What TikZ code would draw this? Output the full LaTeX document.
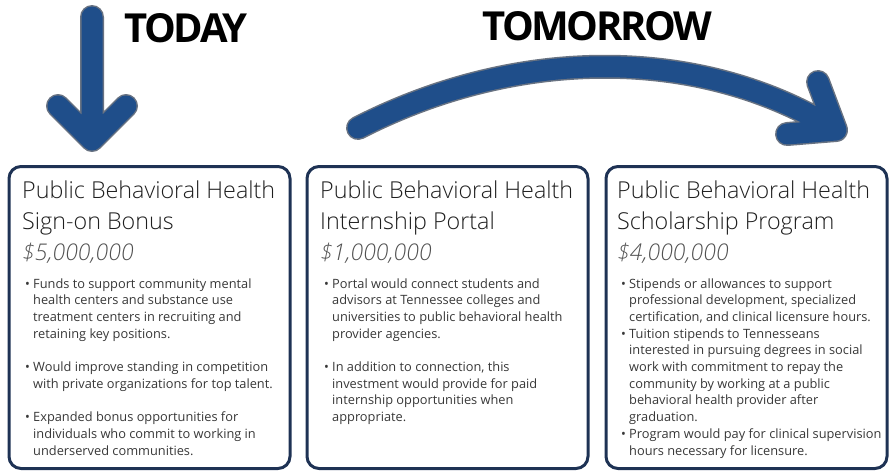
\documentclass[tikz,border=0pt]{standalone}
\usepackage{fontspec}
\setmainfont{Open Sans}
\newfontfamily\bannerfont[LetterSpace=-6]{Open Sans}
\IfFontExistsTF{Open Sans Light}
  {\newfontfamily\thinfont{Open Sans Light}}
  {\newfontfamily\thinfont{Open Sans}}

\definecolor{arrowblue}{RGB}{31,78,138}
\definecolor{arrowedge}{RGB}{105,115,130}
\definecolor{panelnavy}{RGB}{30,50,84}
\definecolor{inkgray}{RGB}{30,30,30}
\definecolor{costgray}{RGB}{80,80,80}
\definecolor{bodygray}{RGB}{55,55,55}

\begin{document}
\begin{tikzpicture}[x=1pt, y=-1pt,
  panel/.style={draw=panelnavy, line width=3pt, rounded corners=12pt,
    minimum width=281pt, minimum height=302pt, inner sep=0pt},
  heading/.style={anchor=base west, align=left, inner sep=0pt, text=inkgray,
    font=\fontsize{23.3}{31}\selectfont\thinfont},
  cost/.style={anchor=base west, inner sep=0pt, text=costgray,
    font=\fontsize{23}{31}\selectfont\thinfont\itshape},
  bulletdot/.style={anchor=base west, inner sep=0pt, text=bodygray,
    font=\fontsize{12.8}{16.7}\selectfont},
  bullettext/.style={anchor=base west, align=left, inner sep=0pt, text=bodygray,
    font=\fontsize{12.8}{16.7}\selectfont},
  banner/.style={anchor=base west, inner sep=0pt,
    font=\fontsize{40}{40}\selectfont\bannerfont\bfseries},
  arrowrim/.style={arrowedge, line width=24pt, line cap=round, line join=round},
  arrowcore/.style={arrowblue, line width=21pt, line cap=round, line join=round}]

  \useasboundingbox (0,0) rectangle (893,472);

  % === Headline words ===
  \node[banner] (today) at (124,42) {TODAY};
  \node[banner] (tomorrow) at (482,40) {TOMORROW};

  % === Straight arrow down into the bonus panel ===
  \coordinate (nowTop) at (92,17);
  \coordinate (nowTip) at (92,140);
  \coordinate (nowL) at (58,106);
  \coordinate (nowR) at (126,106);
  \draw[arrowrim] (nowTop) -- (nowTip) (nowL) -- (nowTip) -- (nowR);
  \draw[arrowcore] (nowTop) -- (nowTip) (nowL) -- (nowTip) -- (nowR);

  % === Curved arrow over to the scholarship panel ===
  \coordinate (nextTail) at (358,128);
  \coordinate (nextTip) at (836,130);
  \coordinate (nextUp) at (818,82);
  \coordinate (nextLow) at (787,134);
  \draw[arrowrim] (nextTail) .. controls (518,46) and (701,46) .. (nextTip)
    (nextUp) -- (nextTip) -- (nextLow);
  \draw[arrowcore] (nextTail) .. controls (518,46) and (701,46) .. (nextTip)
    (nextUp) -- (nextTip) -- (nextLow);

  % (multi-line nodes sit on the baseline of their last line)

  % === Panel 1: sign-on bonus ===
  \begin{scope}[shift={(8,0)}]
    \node[panel] (bonusBox) at (141.5,317.5) {};
    \node[heading] (bonusTitle) at (14,229)
      {Public Behavioral Health\\Sign-on Bonus};
    \node[cost] (bonusCost) at (14,260) {\$5,000,000};
    % Bullets
    \node[bulletdot] (bonusDotA) at (17,288) {•};
    \node[bullettext] (bonusA) at (25,338.1)
      {Funds to support community mental\\health centers and substance use\\treatment centers in recruiting and\\retaining key positions.};
    \node[bulletdot] (bonusDotB) at (17,371.5) {•};
    \node[bullettext] (bonusB) at (25,388.2)
      {Would improve standing in competition\\with private organizations for top talent.};
    \node[bulletdot] (bonusDotC) at (17,421.6) {•};
    \node[bullettext] (bonusC) at (25,455)
      {Expanded bonus opportunities for\\individuals who commit to working in\\underserved communities.};
  \end{scope}

  % === Panel 2: internship portal ===
  \begin{scope}[shift={(306,0)}]
    \node[panel] (portalBox) at (141.5,317.5) {};
    \node[heading] (portalTitle) at (14,229)
      {Public Behavioral Health\\Internship Portal};
    \node[cost] (portalCost) at (14,260) {\$1,000,000};
    % Bullets
    \node[bulletdot] (portalDotA) at (18,288) {•};
    \node[bullettext] (portalA) at (26,338.1)
      {Portal would connect students and\\advisors at Tennessee colleges and\\universities to public behavioral health\\provider agencies.};
    \node[bulletdot] (portalDotB) at (18,371.5) {•};
    \node[bullettext] (portalB) at (26,421.6)
      {In addition to connection, this\\investment would provide for paid\\internship opportunities when\\appropriate.};
  \end{scope}

  % === Panel 3: scholarship program ===
  \begin{scope}[shift={(605,0)}]
    \node[panel] (scholarBox) at (141.5,317.5) {};
    \node[heading] (scholarTitle) at (12,229)
      {Public Behavioral Health\\Scholarship Program};
    \node[cost] (scholarCost) at (12,260) {\$4,000,000};
    % Bullets
    \node[bulletdot] (scholarDotA) at (16,288) {•};
    \node[bullettext] (scholarA) at (24,321.4)
      {Stipends or allowances to support\\professional development, specialized\\certification, and clinical licensure hours.};
    \node[bulletdot] (scholarDotB) at (16,338.1) {•};
    \node[bullettext] (scholarB) at (24,421.6)
      {Tuition stipends to Tennesseans\\interested in pursuing degrees in social\\work with commitment to repay the\\community by working at a public\\behavioral health provider after\\graduation.};
    \node[bulletdot] (scholarDotC) at (16,438.3) {•};
    \node[bullettext] (scholarC) at (24,455)
      {Program would pay for clinical supervision\\hours necessary for licensure.};
  \end{scope}

\end{tikzpicture}
\end{document}
